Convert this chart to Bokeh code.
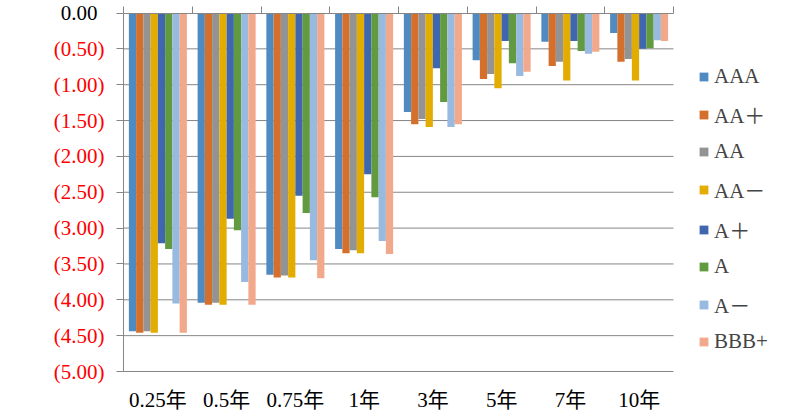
from bokeh.plotting import figure
from bokeh.models import (Range1d, LinearAxis, FixedTicker, Legend,
                          LegendItem, ColumnDataSource, Label, CustomJSTickFormatter)
from bokeh.transform import dodge
from bokeh.embed import file_html
from bokeh.resources import INLINE

categories = ["0.25年", "0.5年", "0.75年", "1年", "3年", "5年", "7年", "10年"]
series_names = ["AAA", "AA＋", "AA", "AA－", "A＋", "A", "A－", "BBB+"]

AAA = [-4.44, -4.04, -3.65, -3.29, -1.38, -0.66, -0.40, -0.28]
AA_plus = [-4.46, -4.07, -3.69, -3.35, -1.55, -0.92, -0.74, -0.68]
AA = [-4.44, -4.04, -3.66, -3.31, -1.48, -0.85, -0.68, -0.64]
AA_minus = [-4.46, -4.07, -3.69, -3.35, -1.59, -1.05, -0.94, -0.94]
A_plus = [-3.21, -2.87, -2.55, -2.25, -0.77, -0.39, -0.39, -0.50]
A = [-3.29, -3.03, -2.79, -2.57, -1.24, -0.70, -0.53, -0.49]
A_minus = [-4.05, -3.75, -3.45, -3.18, -1.59, -0.88, -0.57, -0.38]
BBB_plus = [-4.46, -4.07, -3.70, -3.36, -1.55, -0.82, -0.54, -0.39]

y_ticks = [0.0, -0.5, -1.0, -1.5, -2.0, -2.5, -3.0, -3.5, -4.0, -4.5, -5.0]

series_values = [AAA, AA_plus, AA, AA_minus, A_plus, A, A_minus, BBB_plus]
colors = ["#4F8AC0", "#D5702C", "#939393", "#E2AC00", "#3F66AE", "#629B3F", "#98B9E0", "#F2A98B"]

FONT = "'Liberation Serif', 'Times New Roman', 'DejaVu Serif', serif, 'Noto Sans CJK SC'"
GRAY = "#868686"

W, H = 794, 419
# plot-area placement in pixels (layout only)
PX_LEFT, PX_RIGHT, PX_TOP, PX_BOTTOM = 123, 673, 12.5, 371

n = len(categories)
centers = [i + 0.5 for i in range(n)]
boundaries = [i for i in range(n + 1)]
y_top, y_bot = max(y_ticks), min(y_ticks)

ux = (PX_RIGHT - PX_LEFT) / n
uy = (PX_BOTTOM - PX_TOP) / (y_top - y_bot)
x_range = Range1d(-PX_LEFT / ux, n + (W - PX_RIGHT) / ux)
y_range = Range1d(y_bot - (H - PX_BOTTOM) / uy, y_top + PX_TOP / uy)

data = {"x": centers}
keys = []
for i, vals in enumerate(series_values):
    k = f"s{i}"
    keys.append(k)
    data[k] = vals
source = ColumnDataSource(data)

p = figure(width=W, height=H, x_range=x_range, y_range=y_range,
           x_axis_type=None, y_axis_type=None,
           output_backend="svg", toolbar_location=None, min_border=0)
p.outline_line_color = None

# horizontal gridlines over the category span
grid_src = ColumnDataSource({"y": [t for t in y_ticks if t != y_top]})
p.segment(x0=0, x1=n, y0="y", y1="y", source=grid_src, line_color=GRAY, line_width=1)

bw = 0.1055
renderers = []
for j, k in enumerate(keys):
    r = p.vbar(x=dodge("x", (j - 3.5) * bw), top=0, bottom=k, width=bw,
               source=source, fill_color=colors[j], line_color=None)
    renderers.append(r)

# y axis (at x = 0)
yax = LinearAxis(fixed_location=0, bounds=(y_bot, y_top),
                 ticker=FixedTicker(ticks=[t for t in y_ticks if t != 0], minor_ticks=[0]))
yax.formatter = CustomJSTickFormatter(code='return "(" + Math.abs(tick).toFixed(2) + ")";')
yax.major_label_text_color = "#FF0000"
yax.major_label_text_font = FONT
yax.major_label_text_font_size = "21px"
yax.axis_line_color = GRAY
yax.major_tick_line_color = GRAY
yax.major_tick_out = 7
yax.major_tick_in = 0
yax.minor_tick_line_color = GRAY
yax.minor_tick_out = 7
yax.minor_tick_in = 0
yax.major_label_standoff = 12
p.add_layout(yax, "left")

zero_label = Label(x=0, y=0, text="0.00", x_offset=-26,
                   text_align="right", text_baseline="middle", text_font=FONT,
                   text_font_size="21px", text_color="#000000")
p.add_layout(zero_label)

# category axis along y = 0, boundary ticks pointing down, labels below the plot
xax = LinearAxis(fixed_location=0, bounds=(0, n),
                 ticker=FixedTicker(ticks=centers, minor_ticks=boundaries))
xax.major_label_overrides = {c: lab for c, lab in zip(centers, categories)}
xax.axis_line_color = GRAY
xax.major_tick_line_color = None
xax.major_tick_out = 0
xax.major_tick_in = 0
xax.minor_tick_line_color = GRAY
xax.minor_tick_in = 7
xax.minor_tick_out = 0
xax.major_label_text_font = FONT
xax.major_label_text_font_size = "21px"
xax.major_label_text_color = "#000000"
xax.major_label_standoff = 375
p.add_layout(xax, "below")

legend = Legend(items=[LegendItem(label=nm, renderers=[r]) for nm, r in zip(series_names, renderers)],
                location=(698, 65), padding=0, margin=0, spacing=10,
                glyph_width=11, glyph_height=11, label_standoff=5,
                label_text_font=FONT, label_text_font_size="21px",
                border_line_color=None, background_fill_alpha=0)
p.add_layout(legend)

open("out.html", "w").write(file_html(p, INLINE))
